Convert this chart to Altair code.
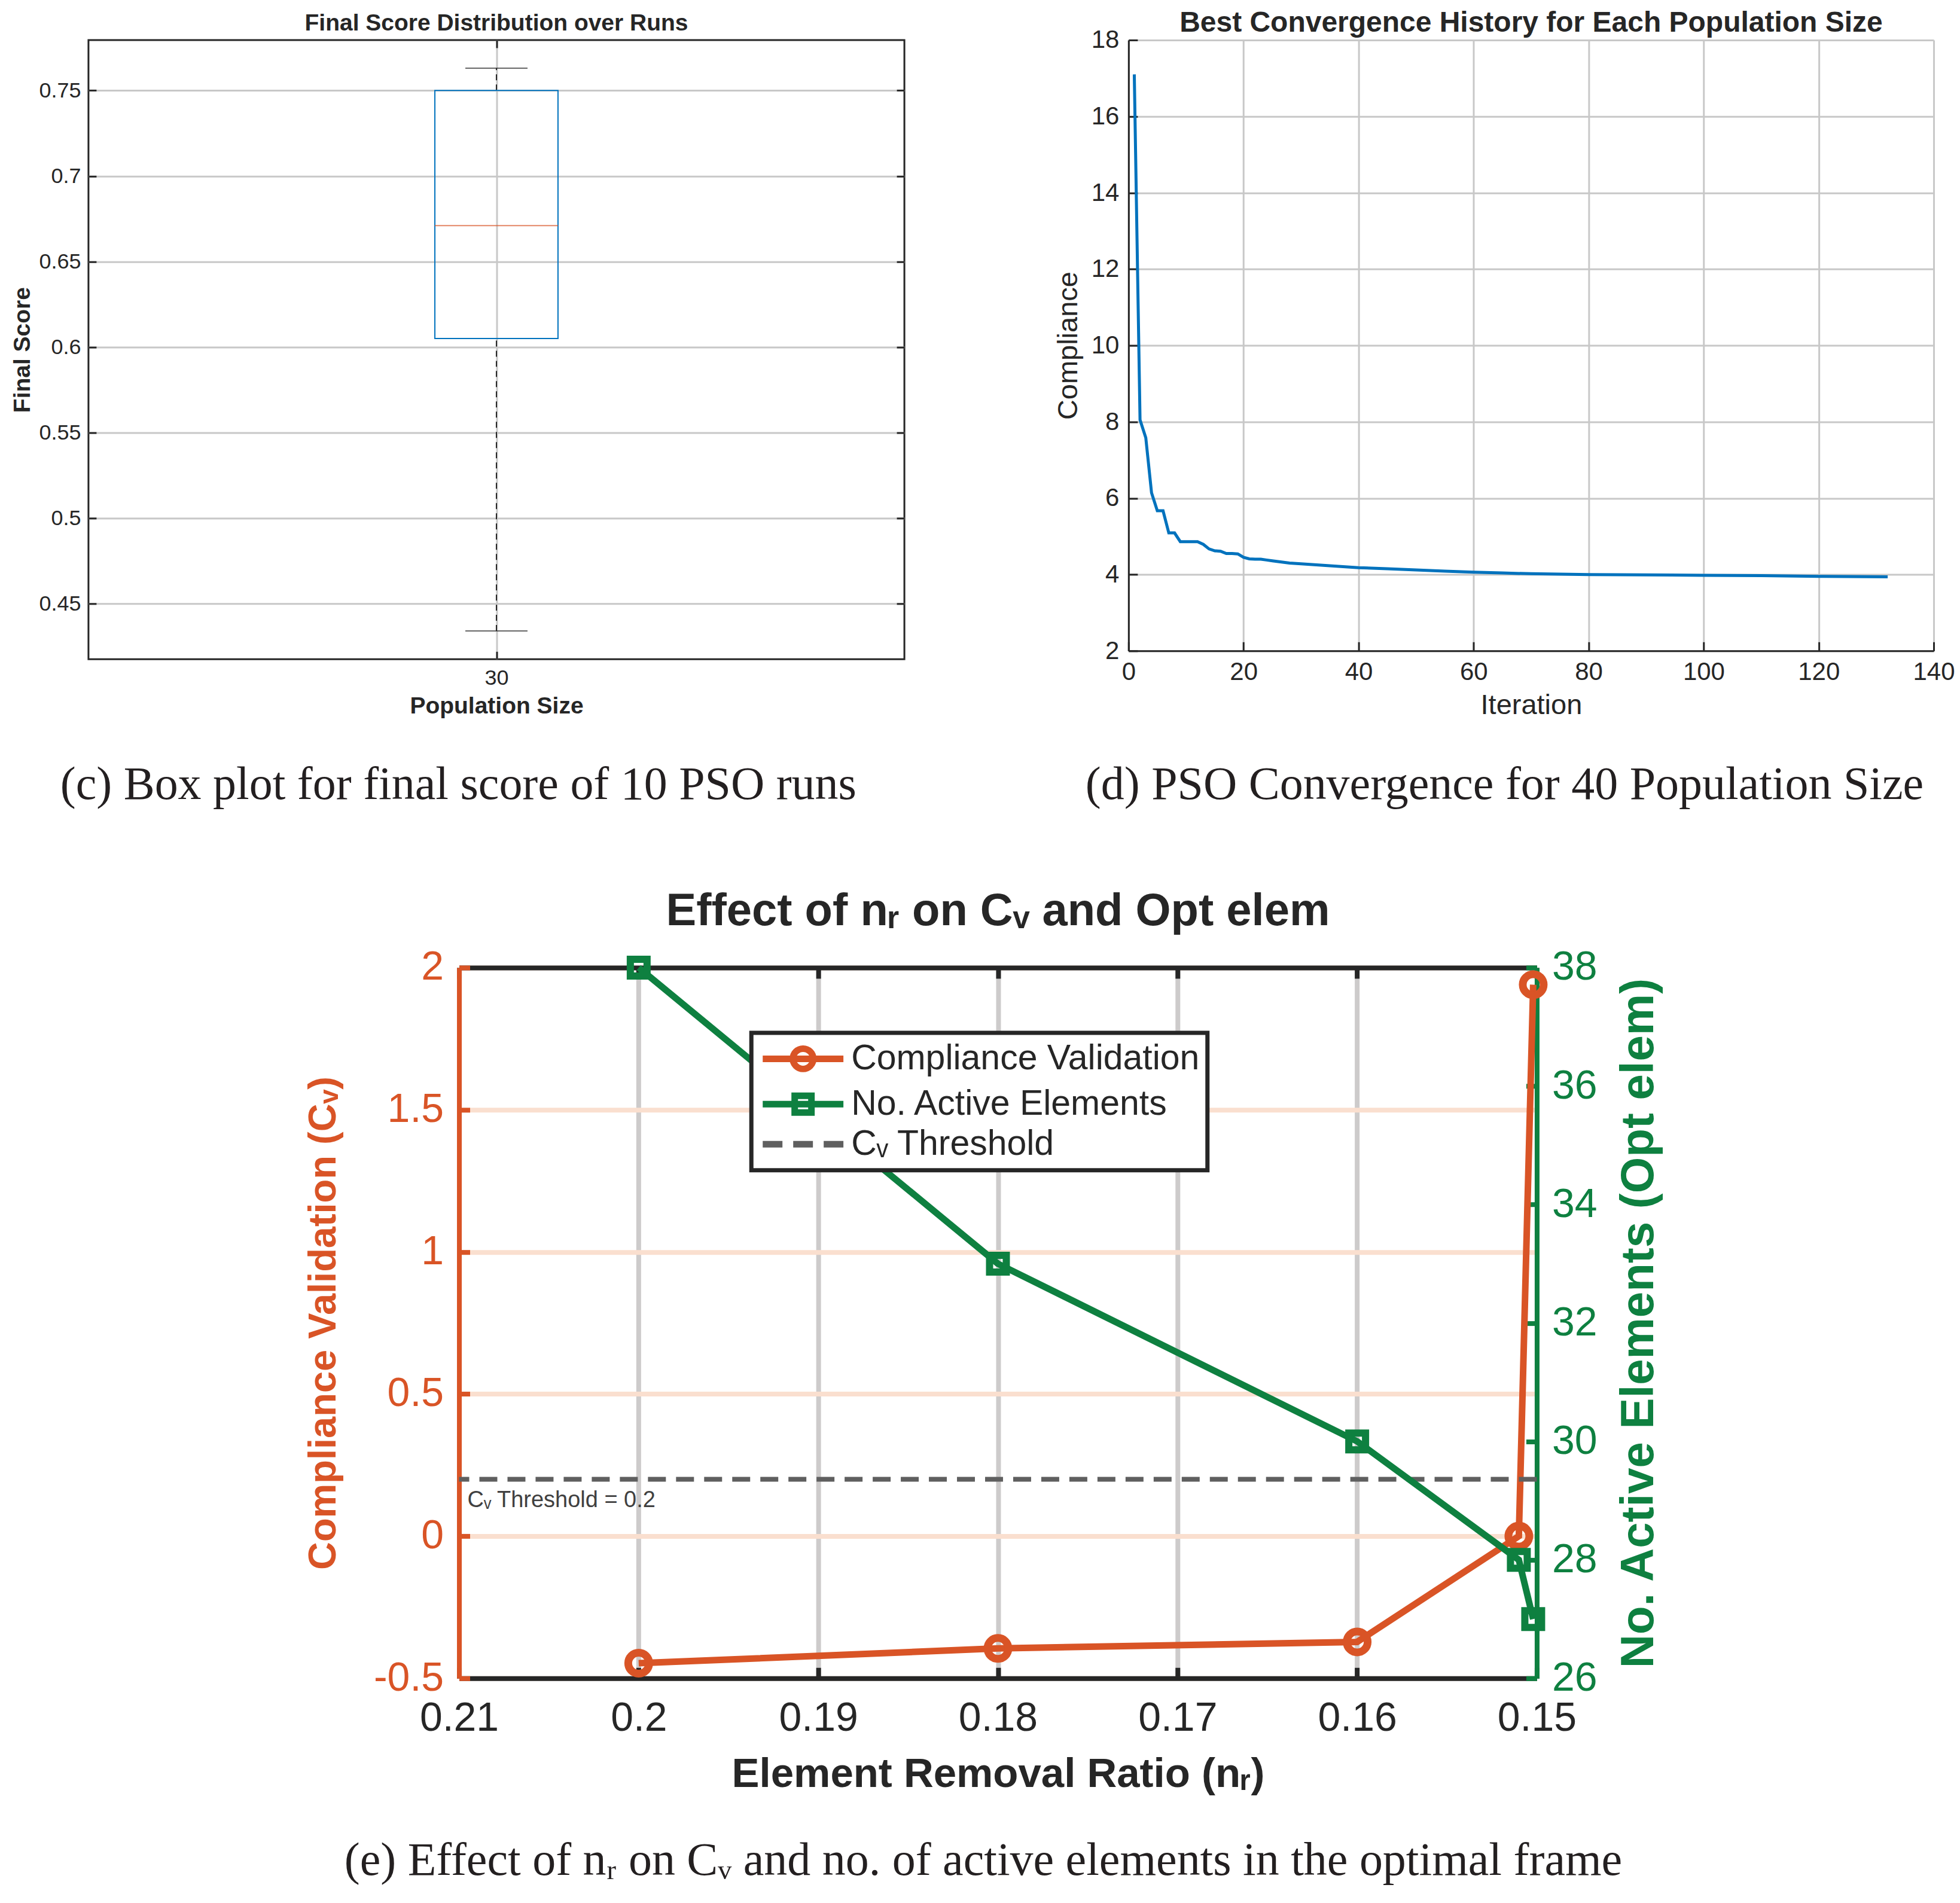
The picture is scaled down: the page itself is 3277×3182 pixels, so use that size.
import altair as alt
import pandas as pd

# ---------------- data ----------------
# (c) final score box plot (population size 30)
pop_sizes = ["30"]
score_min = [0.434]
score_q1 = [0.605]
score_median = [0.671]
score_q3 = [0.750]
score_max = [0.763]
score_ticks = [0.45, 0.5, 0.55, 0.6, 0.65, 0.7, 0.75]

# (d) best convergence history
iterations = [1, 2, 3, 4, 5, 6, 7, 8, 9, 10, 11, 12, 13, 14, 15, 16, 17, 18, 19, 20,
              21, 22, 23, 24, 25, 26, 27, 28, 30, 35, 40, 45, 50, 55, 60, 65, 70,
              80, 90, 100, 110, 120, 132]
compliance = [17.1, 8.05, 7.58, 6.14, 5.67, 5.67, 5.09, 5.09, 4.86, 4.86, 4.86, 4.86,
              4.79, 4.67, 4.62, 4.61, 4.55, 4.55, 4.54, 4.45, 4.41, 4.40, 4.40, 4.38,
              4.36, 4.34, 4.32, 4.30, 4.28, 4.23, 4.18, 4.15, 4.12, 4.09, 4.06, 4.04,
              4.02, 4.00, 3.99, 3.98, 3.97, 3.95, 3.94]
iter_ticks = [0, 20, 40, 60, 80, 100, 120, 140]
compliance_ticks = [2, 4, 6, 8, 10, 12, 14, 16, 18]

# (e) effect of removal ratio
removal_ratio = [0.20, 0.18, 0.16, 0.151, 0.1502]
cv_values = [-0.447, -0.395, -0.372, 0.0, 1.94]
active_elements = [38, 33, 30, 28, 27]
cv_threshold = [0.2]
ratio_ticks = [0.21, 0.2, 0.19, 0.18, 0.17, 0.16, 0.15]
cv_ticks = [-0.5, 0, 0.5, 1, 1.5, 2]
element_ticks = [26, 28, 30, 32, 34, 36, 38]
legend_names = ["Compliance Validation", "No. Active Elements", "Cᵥ Threshold"]
threshold_label = ["Cᵥ Threshold = 0.2"]

captions = ["(c) Box plot for final score of 10 PSO runs",
            "(d) PSO Convergence for 40 Population Size",
            "(e) Effect of nᵣ on Cᵥ and no. of active elements in the optimal frame"]

# ---------------- styles ----------------
SANS = "Liberation Sans"
SERIF = "Liberation Serif"
DARK = "#262626"
BLUE = "#0072BD"
ORANGE = "#D95426"
GREEN = "#0E8040"
DASHGRAY = "#5F5F5F"
GRID = "#C8C8C8"
PEACH = "#FADFCF"
CAP_SIZE = 78

# legend symbols (unit = 25 px): a line with a marker, and a dashed line
CIRCLE_PATH = ("M-2.7,0H2.7M-0.68,0A0.68,0.68 0 1,0 0.68,0"
               "A0.68,0.68 0 1,0 -0.68,0Z")
SQUARE_PATH = "M-2.7,0H2.7M-0.56,-0.56H0.56V0.56H-0.56Z"
DASH_PATH = "M-2.7,0H-1.38M-0.66,0H0.66M1.38,0H2.7"


def inward(orient, size, width, color, values):
    return alt.Axis(orient=orient, offset=-size, tickSize=size, tickWidth=width,
                    tickColor=color, values=values, domain=False, labels=False,
                    grid=False, title=None)


def caption(text):
    return alt.TitleParams(text, orient="bottom", anchor="middle", font=SERIF,
                           fontSize=CAP_SIZE, fontWeight="normal", color="#231F20",
                           offset=72)


# ---------------- panel (c) ----------------
box_df = pd.DataFrame({"pop": pop_sizes, "lo": score_min, "q1": score_q1,
                       "med": score_median, "q3": score_q3, "hi": score_max})
c_xs = alt.Scale(type="point", padding=1)
c_ys = alt.Scale(domain=[0.4175, 0.7795], nice=False, zero=False)
c_xaxis = alt.Axis(orient="bottom", labelAngle=0, labelFontSize=36, labelColor=DARK,
                   labelPadding=14, title="Population Size", titleFontSize=39,
                   titleFontWeight="bold", titleColor=DARK, titlePadding=10,
                   domain=False, ticks=False, grid=True, gridColor=GRID, gridWidth=3)
c_yaxis = alt.Axis(orient="left", values=score_ticks, labelExpr="'' + datum.value",
                   labelFontSize=36, labelColor=DARK, labelPadding=13,
                   title="Final Score", titleFontSize=39, titleFontWeight="bold",
                   titleColor=DARK, titlePadding=7, minExtent=83, maxExtent=83,
                   domain=False, ticks=False, grid=True, gridColor=GRID, gridWidth=3)
base_c = alt.Chart(box_df)
c_wh = base_c.mark_rule(color=DARK, strokeWidth=2, strokeDash=[10, 7]).encode(
    x=alt.X("pop:N", scale=c_xs, axis=c_xaxis),
    y=alt.Y("q3:Q", scale=c_ys, axis=c_yaxis), y2="hi:Q")
c_wl = base_c.mark_rule(color=DARK, strokeWidth=2, strokeDash=[10, 7]).encode(
    x=alt.X("pop:N", axis=None), y=alt.Y("lo:Q", axis=None), y2="q1:Q")
c_box = base_c.mark_bar(filled=False, color=BLUE, strokeWidth=2, size=206).encode(
    x=alt.X("pop:N", axis=None), y=alt.Y("q1:Q", axis=None), y2="q3:Q")
c_med = base_c.mark_tick(color=ORANGE, thickness=2, size=206).encode(
    x=alt.X("pop:N", axis=None), y=alt.Y("med:Q", axis=None))
c_ch = base_c.mark_tick(color=DARK, thickness=2, size=104).encode(
    x=alt.X("pop:N", axis=inward("bottom", 13, 3, DARK, pop_sizes)),
    y=alt.Y("hi:Q", axis=inward("left", 13, 3, DARK, score_ticks)))
c_cl = base_c.mark_tick(color=DARK, thickness=2, size=104).encode(
    x=alt.X("pop:N", axis=inward("top", 13, 3, DARK, pop_sizes)),
    y=alt.Y("lo:Q", axis=inward("right", 13, 3, DARK, score_ticks)))
chart_c = alt.layer(c_wh, c_wl, c_box, c_med, c_ch, c_cl).resolve_axis(
    x="independent", y="independent").properties(
    width=1365, height=1036,
    view=alt.ViewBackground(stroke=DARK, strokeWidth=3),
    title=alt.TitleParams("Final Score Distribution over Runs", fontSize=39,
                          fontWeight="bold", color=DARK, font=SANS, offset=6))
panel_c = alt.vconcat(chart_c, title=caption(captions[0]))

# ---------------- panel (d) ----------------
conv_df = pd.DataFrame({"iteration": iterations, "compliance": compliance})
d_xs = alt.Scale(domain=[0, 140], nice=False, zero=False)
d_ys = alt.Scale(domain=[2, 18], nice=False, zero=False)
d_line = alt.Chart(conv_df).mark_line(color=BLUE, strokeWidth=5).encode(
    x=alt.X("iteration:Q", scale=d_xs, axis=alt.Axis(
        orient="bottom", values=iter_ticks, labelFontSize=42, labelColor=DARK,
        labelPadding=15, labelFlush=False, title="Iteration", titleFontSize=47,
        titleFontWeight="normal", titleColor=DARK, titlePadding=12,
        domainColor=DARK, domainWidth=3, ticks=False, grid=True, gridColor=GRID,
        gridWidth=3)),
    y=alt.Y("compliance:Q", scale=d_ys, axis=alt.Axis(
        orient="left", values=compliance_ticks, labelFontSize=42, labelColor=DARK,
        labelPadding=16, title="Compliance", titleFontSize=47,
        titleFontWeight="normal", titleColor=DARK, titlePadding=13, minExtent=63,
        maxExtent=63, domainColor=DARK, domainWidth=3, ticks=False, grid=True,
        gridColor=GRID, gridWidth=3)))
d_ticks = alt.Chart(conv_df).mark_line(opacity=0).encode(
    x=alt.X("iteration:Q", axis=inward("bottom", 15, 3, DARK, iter_ticks)),
    y=alt.Y("compliance:Q", axis=inward("left", 15, 3, DARK, compliance_ticks)))
chart_d = alt.layer(d_line, d_ticks).resolve_axis(
    x="independent", y="independent").properties(
    width=1347, height=1022,
    title=alt.TitleParams("Best Convergence History for Each Population Size",
                          fontSize=48, fontWeight="bold", color=DARK, font=SANS,
                          offset=-17))
panel_d = alt.vconcat(chart_d, title=caption(captions[1]))

# ---------------- panel (e) ----------------
e_df = pd.DataFrame({"ratio": removal_ratio, "cv": cv_values, "elem": active_elements})
thr_df = pd.DataFrame({"thr": cv_threshold, "left_edge": [ratio_ticks[0]],
                       "label": threshold_label})
legend_df = pd.DataFrame({"series": legend_names})
e_xs = alt.Scale(domain=[0.15, 0.21], reverse=True, nice=False, zero=False)
cv_s = alt.Scale(domain=[-0.5, 2], nice=False, zero=False)
el_s = alt.Scale(domain=[26, 38], nice=False, zero=False)

e_xaxis = alt.Axis(orient="bottom", values=ratio_ticks, labelExpr="'' + datum.value",
                   labelFontSize=68, labelColor=DARK, labelPadding=33,
                   labelFlush=False, title="Element Removal Ratio (nᵣ)",
                   titleFontSize=69, titleFontWeight="bold", titleColor=DARK,
                   titlePadding=25, domainColor=DARK, domainWidth=8, ticks=False,
                   grid=True, gridColor="#CDCBCB", gridWidth=8)
cv_axis = alt.Axis(orient="left", values=cv_ticks, labelExpr="'' + datum.value",
                   labelFontSize=68, labelColor=ORANGE, labelPadding=26,
                   title="Compliance Validation (Cᵥ)", titleFontSize=65,
                   titleFontWeight="bold", titleColor=ORANGE, titlePadding=50,
                   titleLimit=3000, minExtent=143, maxExtent=143, domainColor=ORANGE,
                   domainWidth=8, ticks=False, grid=True, gridColor=PEACH, gridWidth=8)
el_axis = alt.Axis(orient="right", values=element_ticks, labelFontSize=68,
                   labelColor=GREEN, labelPadding=25,
                   title="No. Active Elements (Opt elem)", titleFontSize=78,
                   titleFontWeight="bold", titleColor=GREEN, titleAngle=270,
                   titleBaseline="top", titlePadding=31, titleLimit=3000,
                   minExtent=101, maxExtent=101,
                   domainColor=GREEN, domainWidth=8, ticks=False, grid=False)
top_axis = alt.Axis(orient="top", values=ratio_ticks, labels=False, ticks=False,
                    title=None, grid=False, domainColor=DARK, domainWidth=8)

cv_line = alt.Chart(e_df).mark_line(color=ORANGE, strokeWidth=11).encode(
    x=alt.X("ratio:Q", scale=e_xs, axis=e_xaxis),
    y=alt.Y("cv:Q", scale=cv_s, axis=cv_axis))
cv_pts = alt.Chart(e_df).mark_point(shape="circle", filled=False, color=ORANGE,
                                    strokeWidth=13, size=1225, opacity=1).encode(
    x=alt.X("ratio:Q", axis=inward("bottom", 18, 8, DARK, ratio_ticks)),
    y=alt.Y("cv:Q", axis=inward("left", 18, 8, ORANGE, cv_ticks)))
thr_rule = alt.Chart(thr_df).mark_rule(color=DASHGRAY, strokeWidth=8,
                                       strokeDash=[30, 17]).encode(
    y=alt.Y("thr:Q", axis=None))
thr_text = alt.Chart(thr_df).mark_text(align="left", baseline="top", dx=14, dy=16,
                                       font=SANS, fontSize=38, color="#404040").encode(
    x=alt.X("left_edge:Q", axis=None), y=alt.Y("thr:Q", axis=None),
    text="label:N")
legend_cfg = dict(title=None, orient="none", legendX=489, legendY=109,
                  fillColor="white", strokeColor=DARK, padding=13, labelFont=SANS,
                  labelFontSize=59, labelColor=DARK, labelOffset=50, labelLimit=2000,
                  rowPadding=0, symbolSize=2500, symbolOffset=43,
                  symbolStrokeWidth=11, symbolOpacity=1)
legend_layer = alt.Chart(legend_df).mark_point(size=0, filled=False).encode(
    stroke=alt.Stroke("series:N", scale=alt.Scale(domain=legend_names,
                                                  range=[ORANGE, GREEN, DASHGRAY]),
                      legend=alt.Legend(**legend_cfg)),
    shape=alt.Shape("series:N", scale=alt.Scale(domain=legend_names,
                                                range=[CIRCLE_PATH, SQUARE_PATH, DASH_PATH]),
                    legend=alt.Legend(**legend_cfg)))
left = alt.layer(cv_line, cv_pts, thr_rule, thr_text, legend_layer).resolve_axis(
    x="independent", y="independent")

el_line = alt.Chart(e_df).mark_line(color=GREEN, strokeWidth=11).encode(
    x=alt.X("ratio:Q", scale=e_xs, axis=top_axis),
    y=alt.Y("elem:Q", scale=el_s, axis=el_axis))
el_pts = alt.Chart(e_df).mark_point(shape="square", filled=False, color=GREEN,
                                    strokeWidth=12, size=784, opacity=1).encode(
    x=alt.X("ratio:Q", axis=inward("top", 18, 8, DARK, ratio_ticks)),
    y=alt.Y("elem:Q", axis=inward("right", 18, 8, GREEN, element_ticks)))
right = alt.layer(el_line, el_pts).resolve_axis(x="independent", y="independent")

chart_e = alt.layer(left, right).resolve_scale(y="independent").resolve_axis(
    x="independent", y="independent").properties(
    width=1803, height=1189,
    title=alt.TitleParams("Effect of nᵣ on Cᵥ and Opt elem", fontSize=76,
                          fontWeight="bold", color=DARK, font=SANS, offset=17))
panel_e = alt.vconcat(chart_e, title=caption(captions[2])).resolve_scale(
    stroke="independent", shape="independent")

# invisible spacer that sets the left margin of the bottom panel
spacer_df = pd.DataFrame({"s": [0]})
spacer = alt.Chart(spacer_df).mark_point(opacity=0).encode(
    x=alt.X("s:Q", axis=None), y=alt.Y("s:Q", axis=None)).properties(
    width=361, height=1, view=alt.ViewBackground(fill="white", strokeWidth=0))
bottom_row = alt.hconcat(spacer, panel_e, spacing=0).resolve_scale(
    stroke="independent", shape="independent")

top_row = alt.hconcat(panel_c, panel_d, spacing=248)
chart = alt.vconcat(top_row, bottom_row, spacing=134).resolve_scale(
    stroke="independent", shape="independent").properties(
    padding={"left": 9, "top": 6, "right": 0, "bottom": 0}
).configure_view(strokeWidth=0).configure_axis(
    labelFont=SANS, titleFont=SANS).configure_legend(strokeWidth=7)

chart.save("out.html", embed_options={"renderer": "svg", "actions": False})
